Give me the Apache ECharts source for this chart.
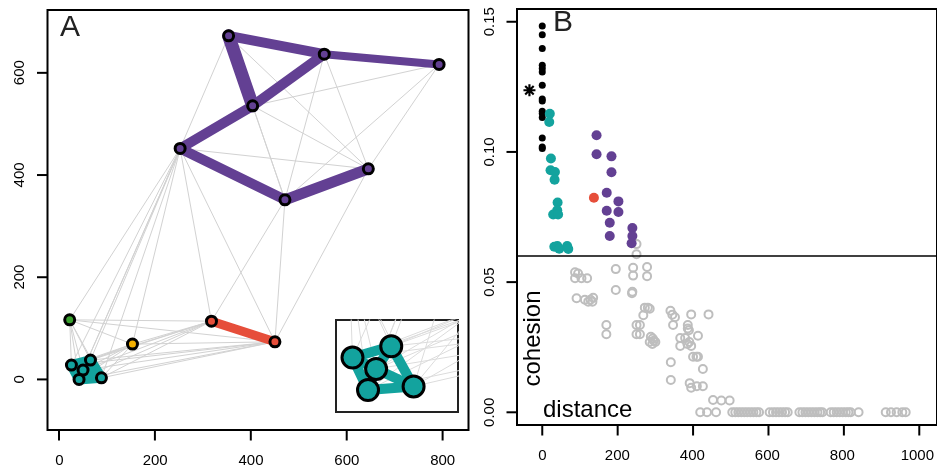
<!DOCTYPE html>
<html><head><meta charset="utf-8">
<script src="https://cdn.jsdelivr.net/npm/echarts@6/dist/echarts.min.js"></script>
<style>html,body{margin:0;padding:0;background:#fff}#c{width:937px;height:468px}</style>
</head><body><div id="c"></div>
<script>
// ---------- Panel A: network layout ----------
const nodeNames = ['P1','P2','P3','P4','P5','P6','P7','R1','R2','G','O','T1','T2','T3','T4','T5'];
const nodeX = [353.7, 553.2, 792.7, 403.8, 252.6, 645.1, 471.2, 318, 450.3, 22.3, 153.2, 25.9, 65.6, 50.1, 41.8, 88.5];
const nodeY = [672.4, 636.6, 616.4, 535.4, 452, 412.1, 351.5, 114, 73.6, 116.6, 69.1, 28, 37.8, 18.2, 0, 3.1];
const nodeGroup = ['purple','purple','purple','purple','purple','purple','purple','red','red','green','orange','teal','teal','teal','teal','teal'];

// strong (within-community) ties
const strongEdges = [[0,1],[1,2],[0,3],[3,1],[3,4],[4,6],[6,5],[7,8],
  [11,12],[11,13],[11,14],[12,13],[12,15],[13,14],[13,15],[14,15]];
// weak ties
const weakEdges = [
  [0,4],[0,5],[0,6],[1,5],[1,6],[2,3],[2,5],[2,6],[3,5],[3,6],[4,5],
  [4,7],[4,8],[6,7],[6,8],[5,8],
  [4,9],[4,10],[4,11],[4,12],[4,13],[4,14],[4,15],
  [9,11],[9,12],[9,13],[9,14],[9,15],[9,10],[9,7],[9,8],
  [10,11],[10,12],[10,13],[10,14],[10,15],[10,7],[10,8],
  [11,7],[12,7],[13,7],[14,7],[15,7],[11,8],[12,8],[13,8],[14,8],[15,8]
];

// ---------- Panel B: cohesion vs distance ----------
const selfCohesion = [0.1484,0.1450,0.1397,0.1333,0.1320,0.1307,0.1256,0.1203,0.1196,0.1156,0.1148,0.1132,0.1054,0.1019,0.1013];
const meanSelfCohesion = 0.1237;
const meanMarkerDist = -34;
const threshold = 0.0619;
const tealDist = [20,18.5,23,22,33.6,32.7,40.7,39.7,29,42,32,40,45,66,69];
const tealCoh  = [0.1147,0.1115,0.0975,0.0930,0.0923,0.0893,0.0806,0.0776,0.0760,0.0760,0.0636,0.0639,0.0628,0.0639,0.0627];
const purpleDist = [144,144,183.6,183.6,171,202,171,202,179,179,239,239,237];
const purpleCoh  = [0.1064,0.0991,0.0983,0.0922,0.0843,0.0810,0.0774,0.0769,0.0728,0.0677,0.0708,0.0677,0.0649];
const redDist = [137];
const redCoh = [0.0824];
const grayDist = [250,250,195,241,241,278,278,87,95,87,104,119,195,239,238,91,113,122,128,133,135,
  272,280,285,268,170,170,250,259,250,259,288,293,285,300,292,296,340,345,352,347,395,441,
  386,386,389,413,366,366,379,390,395,385,400,409,413,426,341,341,391,395,410,426,453,475,497,
  419,437,461,504,512,520,528,536,544,552,560,568,575,603,612,620,628,636,644,651,
  682,690,698,706,714,722,730,737,743,765,773,781,789,797,805,812,818,839,911,925,940,955,964];
const grayCoh = [0.0646,0.0607,0.0550,0.0555,0.0525,0.0558,0.0523,0.0538,0.0533,0.0515,0.0515,0.0515,0.0470,0.0463,0.0457,0.0438,0.0432,0.0425,0.0432,0.0425,0.0440,
  0.0402,0.0402,0.0398,0.0373,0.0335,0.0300,0.0335,0.0335,0.0300,0.0300,0.0290,0.0283,0.0270,0.0270,0.0262,0.0275,0.0390,0.0375,0.0365,0.0335,0.0376,0.0376,
  0.0335,0.0322,0.0315,0.0294,0.0285,0.0255,0.0285,0.0270,0.0255,0.0262,0.0213,0.0213,0.0213,0.0166,0.0192,0.0124,0.0112,0.0094,0.0100,0.0100,0.0047,0.0045,0.0045,
  0,0,0,0,0,0,0,0,0,0,0,0,0,0,0,0,0,0,0,0,0,
  0,0,0,0,0,0,0,0,0,0,0,0,0,0,0,0,0,0,0,0,0,0];

// tick ranges (first tick, last tick, step)
const xTicksA = [0, 800, 200];
const yTicksA = [0, 600, 200];
const xTicksB = [0, 1000, 200];
const yTicksB = [0, 0.15, 0.05];

// ---------- styling / layout ----------
const FONT = "'Liberation Sans', Arial, Helvetica, sans-serif";
const COL = {purple:'#634093', red:'#e64e3a', green:'#3aa02e', orange:'#f4b000', teal:'#13a39e'};
const strongWidth = [10,8,13,10,10,10,11,9, 10,10,10,10,10,10,10,10];
const TICK_PX = 10.5;
const gridA = {left:47.5, top:10, width:421, height:420};
const gridB = {left:517, top:9, width:420, height:416};
const rangeA = {x:[-24, 854], y:[-99, 723]};
const rangeB = {x:[-67, 1047], y:[-0.00488, 0.1549]};

const pt = i => [nodeX[i], nodeY[i]];
const weakData = weakEdges.map(e => ({coords:[pt(e[0]), pt(e[1])]}));
const strongData = strongEdges.map((e,k) => ({coords:[pt(e[0]), pt(e[1])],
  lineStyle:{color: COL[nodeGroup[e[0]]], width: strongWidth[k], cap:'round', opacity:1}}));
const nodeData = nodeX.map((x,i) => ({value:[x,nodeY[i]], name:nodeNames[i], itemStyle:{color: COL[nodeGroup[i]]}}));
const tealIdx = nodeGroup.map((g,i)=>g==='teal'?i:-1).filter(i=>i>=0);
const insetWeak = weakEdges.filter(e => nodeGroup[e[0]]==='teal' || nodeGroup[e[1]]==='teal').map(e => ({coords:[pt(e[0]), pt(e[1])]}));
const insetStrong = strongEdges.filter(e => nodeGroup[e[0]]==='teal').map(e => ({coords:[pt(e[0]), pt(e[1])],
  lineStyle:{color: COL.teal, width: 10, cap:'round', opacity:1}}));
const insetNodes = tealIdx.map(i => [nodeX[i], nodeY[i]]);
const ticksOf = t => { const a = []; for (let k = 0; t[0] + k*t[2] <= t[1] + 1e-9; k++) a.push(+(t[0] + k*t[2]).toFixed(6)); return a; };

function dataAxis(gridIndex, min, max) {
  return {type:'value', gridIndex, min, max, show:false, axisLine:{onZero:false}, splitLine:{show:false}};
}
function tickAxis(gridIndex, t, fmt, rotate, margin) {
  return {
    type:'value', gridIndex, min:t[0], max:t[1], interval:t[2],
    axisLine:{show:false, onZero:false},
    axisTick:{show:false},
    splitLine:{show:false},
    axisLabel:{show:true, color:'#000', fontSize:15, fontFamily:FONT, margin:margin, rotate:rotate||0,
      showMinLabel:true, showMaxLabel:true, hideOverlap:false,
      formatter: fmt || (v => String(v))}
  };
}
function blankAxis(gridIndex) {
  return {type:'value', gridIndex, min:0, max:1, show:false, axisLine:{onZero:false}, splitLine:{show:false}};
}

const textGraphics = [
  {type:'text', id:'tA', x:60, y:13, z:50, style:{text:'A', font:'30px '+FONT, fill:'#222'}},
  {type:'text', id:'tB', x:553, y:8, z:50, style:{text:'B', font:'30px '+FONT, fill:'#222'}},
  {type:'text', id:'tC', x:533.5, y:338.5, z:50, rotation:Math.PI/2, style:{text:'cohesion', font:'24px '+FONT, fill:'#000', textAlign:'center', textVerticalAlign:'middle'}},
  {type:'text', id:'tD', x:543, y:410, z:50, style:{text:'distance', font:'24px '+FONT, fill:'#000', textAlign:'left', textVerticalAlign:'middle'}}
];

const option = {
  animation:false,
  backgroundColor:'#fff',
  grid:[
    Object.assign({show:true, borderColor:'#000', borderWidth:2, backgroundColor:'rgba(0,0,0,0)'}, gridA),
    Object.assign({show:true, borderColor:'#000', borderWidth:2, backgroundColor:'rgba(0,0,0,0)'}, gridB),
    {left:336, top:320, width:122, height:92, show:true, borderColor:'#222', borderWidth:2, backgroundColor:'#fff', z:5},
    // helper grids carrying the tick labels
    {left:59.3, top:430, width:383.4, height:10.5, show:false},
    {left:37, top:72.7, width:10.5, height:306.6, show:false},
    {left:542.3, top:425, width:377.7, height:10.5, show:false},
    {left:506.5, top:21.7, width:10.5, height:390.6, show:false}
  ],
  xAxis:[
    dataAxis(0, rangeA.x[0], rangeA.x[1]),
    dataAxis(1, rangeB.x[0], rangeB.x[1]),
    dataAxis(2, 9, 134),
    tickAxis(3, xTicksA, null, 0, 13),
    blankAxis(4),
    tickAxis(5, xTicksB, null, 0, 13),
    blankAxis(6)
  ],
  yAxis:[
    dataAxis(0, rangeA.y[0], rangeA.y[1]),
    dataAxis(1, rangeB.y[0], rangeB.y[1]),
    dataAxis(2, -19, 60.5),
    blankAxis(3),
    tickAxis(4, yTicksA, null, 90, 10),
    blankAxis(5),
    tickAxis(6, yTicksB, v => v.toFixed(2), 90, 9.5)
  ],
  graphic: textGraphics,
  series:[
    {type:'lines', coordinateSystem:'cartesian2d', xAxisIndex:0, yAxisIndex:0, silent:true, z:1,
      lineStyle:{color:'#d2d2d2', width:1, opacity:1}, data:weakData},
    {type:'lines', coordinateSystem:'cartesian2d', xAxisIndex:0, yAxisIndex:0, silent:true, z:2, data:strongData},
    {type:'scatter', xAxisIndex:0, yAxisIndex:0, symbolSize:10, z:3,
      itemStyle:{borderColor:'#000', borderWidth:3, opacity:1}, data:nodeData},
    // inset
    {type:'lines', coordinateSystem:'cartesian2d', xAxisIndex:2, yAxisIndex:2, silent:true, z:6, clip:true,
      lineStyle:{color:'#dcdcdc', width:1, opacity:1}, data:insetWeak},
    {type:'lines', coordinateSystem:'cartesian2d', xAxisIndex:2, yAxisIndex:2, silent:true, z:7, clip:true, data:insetStrong},
    {type:'scatter', xAxisIndex:2, yAxisIndex:2, symbolSize:21, z:8,
      itemStyle:{color:COL.teal, borderColor:'#000', borderWidth:3, opacity:1}, data:insetNodes},
    // panel B
    {type:'scatter', xAxisIndex:1, yAxisIndex:1, symbolSize:8, z:3,
      itemStyle:{color:'rgba(0,0,0,0)', borderColor:'#bebebe', borderWidth:2, opacity:1},
      data:grayDist.map((d,i)=>[d,grayCoh[i]]),
      markLine:{silent:true, symbol:'none', label:{show:false}, lineStyle:{color:'#000', width:1.5, type:'solid'},
        data:[{yAxis:threshold}]}},
    {type:'scatter', xAxisIndex:1, yAxisIndex:1, symbolSize:7, z:4, itemStyle:{color:'#000', opacity:1},
      data:selfCohesion.map(c=>[0,c])},
    {type:'scatter', xAxisIndex:1, yAxisIndex:1, symbolSize:10, z:4, itemStyle:{color:COL.teal, opacity:1},
      data:tealDist.map((d,i)=>[d,tealCoh[i]])},
    {type:'scatter', xAxisIndex:1, yAxisIndex:1, symbolSize:10, z:4, itemStyle:{color:COL.purple, opacity:1},
      data:purpleDist.map((d,i)=>[d,purpleCoh[i]])},
    {type:'scatter', xAxisIndex:1, yAxisIndex:1, symbolSize:10, z:4, itemStyle:{color:COL.red, opacity:1},
      data:redDist.map((d,i)=>[d,redCoh[i]])},
    {type:'scatter', xAxisIndex:1, yAxisIndex:1, symbolSize:12, z:4, itemStyle:{color:'#000', opacity:1},
      symbol:'path://M-0.9,-5L0.9,-5L0.9,5L-0.9,5Z M-5,-0.9L5,-0.9L5,0.9L-5,0.9Z M2.9,-4.17L4.17,-2.9L-2.9,4.17L-4.17,2.9Z M-4.17,-2.9L-2.9,-4.17L4.17,2.9L2.9,4.17Z',
      data:[[meanMarkerDist, meanSelfCohesion]]}
  ]
};
const chart = echarts.init(document.getElementById('c'), null, {renderer:'canvas'});
chart.setOption(option);

// outward tick marks: positions come from the library's own axis scales
function tickGraphics(xi, yi, range, xt, yt, prefix) {
  const out = [];
  ticksOf(xt).forEach((v,k) => {
    const p = chart.convertToPixel({xAxisIndex:xi, yAxisIndex:yi}, [v, range.y[0]]);
    out.push({type:'line', id:prefix+'x'+k, z:60, silent:true,
      shape:{x1:p[0], y1:p[1], x2:p[0], y2:p[1] + TICK_PX}, style:{stroke:'#000', lineWidth:2}});
  });
  ticksOf(yt).forEach((v,k) => {
    const p = chart.convertToPixel({xAxisIndex:xi, yAxisIndex:yi}, [range.x[0], v]);
    out.push({type:'line', id:prefix+'y'+k, z:60, silent:true,
      shape:{x1:p[0], y1:p[1], x2:p[0] - TICK_PX, y2:p[1]}, style:{stroke:'#000', lineWidth:2}});
  });
  return out;
}
chart.setOption({graphic: textGraphics.concat(
  tickGraphics(0, 0, rangeA, xTicksA, yTicksA, 'a'),
  tickGraphics(1, 1, rangeB, xTicksB, yTicksB, 'b'))});
</script></body></html>
